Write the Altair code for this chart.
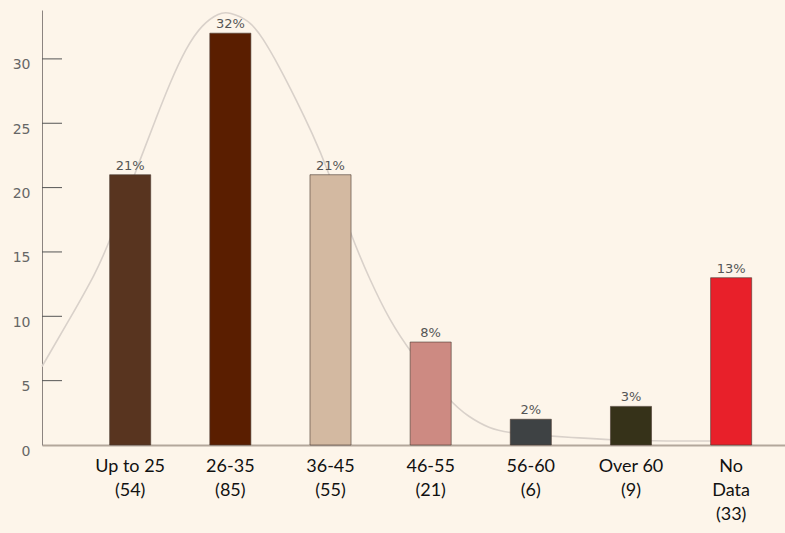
import altair as alt
import pandas as pd

# Age groups, respondent counts and share of respondents (%)
categories = ["Up to 25", "26-35", "36-45", "46-55", "56-60", "Over 60", "No Data"]
counts = [54, 85, 55, 21, 6, 9, 33]
shares = [21, 32, 21, 8, 2, 3, 13]
bar_colors = ["#58341f", "#5a1e00", "#d3b9a1", "#cd8a82", "#3e4244", "#363219", "#e8202a"]

# Smoothed distribution curve: position in category units (0 = first bar) and height
curve_pos = [-0.88, -0.61, -0.34, -0.21, 0.11, 0.26, 0.39, 0.56, 0.72, 0.89, 0.99,
             1.19, 1.32, 1.49, 1.66, 1.82, 1.96, 2.21, 2.39, 2.59, 2.80, 3.20,
             3.38, 3.58, 3.80, 4.20, 4.48, 4.80, 5.20, 5.80]
curve_val = [6.1, 9.7, 13.4, 15.7, 22.4, 25.4, 28.0, 30.9, 32.7, 33.6, 33.65,
             33.0, 31.7, 29.4, 26.8, 24.2, 21.7, 16.2, 12.9, 9.7, 7.2, 3.3,
             2.2, 1.3, 0.9, 0.7, 0.55, 0.4, 0.31, 0.31]

y_ticks = [0, 5, 10, 15, 20, 25, 30]
wrapped = {"No Data": "No\nData"}

labels = [f"{wrapped.get(c, c)}\n({n})" for c, n in zip(categories, counts)]
bars_df = pd.DataFrame({
    "label": labels,
    "share": shares,
    "text": [f"{s}%" for s in shares],
    "color": bar_colors,
})
curve_df = pd.DataFrame({"pos": curve_pos, "val": curve_val})
ticks_df = pd.DataFrame({"v": [t for t in y_ticks if t > 0]})

Y_MAX = 33.8
W, H = 743, 435

y_scale = alt.Scale(domain=[0, Y_MAX], nice=False, zero=True)
y_axis = alt.Axis(
    title=None,
    values=y_ticks,
    grid=False,
    ticks=False,
    domainColor="#8c8480",
    domainWidth=1,
    labelFont="DejaVu Sans",
    labelFontSize=14,
    labelColor="#666666",
    labelPadding=12,
    labelOffset=6,
)

x_band = alt.X(
    "label:N",
    sort=labels,
    scale=alt.Scale(paddingInner=0.59, paddingOuter=0.504, align=0.67),
    axis=alt.Axis(
        title=None,
        labelAngle=0,
        labelExpr="split(datum.value, '\\n')",
        labelFont="Lato",
        labelFontSize=18,
        labelColor="#111111",
        labelLineHeight=24,
        labelPadding=12,
        labelBaseline="top",
        ticks=False,
        domainColor="#b3a79b",
        domainWidth=2,
    ),
)

curve = alt.Chart(curve_df).mark_line(
    interpolate="basis", color="#d9d1ca", strokeWidth=1.6
).encode(
    x=alt.X("pos:Q", scale=alt.Scale(domain=[-0.88, 6.54], nice=False, zero=False), axis=None),
    y=alt.Y("val:Q", scale=y_scale, axis=y_axis),
)

bars = alt.Chart(bars_df).mark_bar(
    stroke="#4a3a32", strokeWidth=1, strokeOpacity=0.6
).encode(
    x=x_band,
    y=alt.Y("share:Q", scale=y_scale, axis=y_axis),
    color=alt.Color("color:N", scale=None),
)

pct = alt.Chart(bars_df).mark_text(
    baseline="bottom", dy=-2, font="DejaVu Sans", fontSize=13, color="#555555"
).encode(
    x=alt.X("label:N", sort=labels),
    y=alt.Y("share:Q", scale=y_scale),
    text="text:N",
)

ticks = alt.Chart(ticks_df).mark_rule(color="#555555", strokeWidth=1).encode(
    x=alt.value(0),
    x2=alt.value(20),
    y=alt.Y("v:Q", scale=y_scale),
)

chart = (
    alt.layer(curve, alt.layer(bars, pct), ticks)
    .resolve_scale(x="independent")
    .properties(
        width=W,
        height=H,
        background="#fdf5ea",
        padding={"left": 42, "top": 10, "right": 0, "bottom": 88},
        autosize=alt.AutoSizeParams(type="none"),
    )
    .configure_view(stroke=None)
)

chart.save("out.html", embed_options={"renderer": "svg", "actions": False})
